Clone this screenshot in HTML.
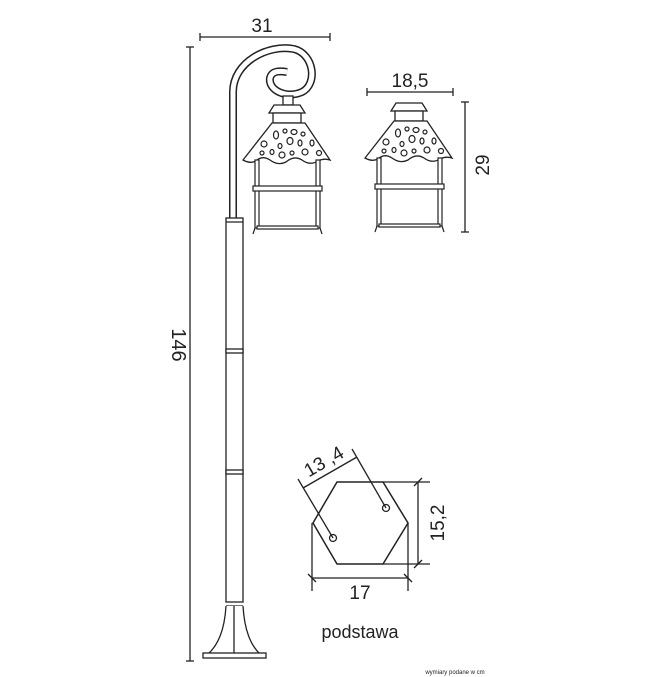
<!DOCTYPE html>
<html><head><style>
html,body{margin:0;padding:0;background:#fff;}
svg{display:block;}
text{font-family:"Liberation Sans",sans-serif;fill:#222;}
</style></head><body>
<svg width="650" height="677" viewBox="0 0 650 677" xmlns="http://www.w3.org/2000/svg">
<defs>
<g id="lamp">
  <path d="M269,113 L274,105 L300,105 L305,113 Z" fill="#fff" stroke="#222" stroke-width="1.3"/>
  <rect x="273" y="113" width="28" height="10" fill="#fff" stroke="#222" stroke-width="1.3"/>
  <path d="M272,123 L305,123 L330,160 Q324,158 318,161 Q310,166 302,160 Q294,155 286,162 Q278,166 270,160 Q262,155 256,161 Q250,164 243,160 Z" fill="#fff" stroke="#222" stroke-width="1.3"/>
  <g fill="none" stroke="#222" stroke-width="1.2">
    <ellipse cx="276" cy="135" rx="2.5" ry="4"/><ellipse cx="285" cy="131" rx="2" ry="2"/><ellipse cx="294" cy="132" rx="3" ry="2.5"/><ellipse cx="303" cy="134" rx="2" ry="2"/>
    <ellipse cx="264" cy="144" rx="3" ry="3"/><ellipse cx="290" cy="141" rx="3" ry="3.5"/><ellipse cx="300" cy="143" rx="2" ry="3"/><ellipse cx="312" cy="143" rx="2" ry="3"/><ellipse cx="280" cy="146" rx="2" ry="2.5"/>
    <ellipse cx="262" cy="153" rx="2" ry="2"/><ellipse cx="272" cy="152" rx="2" ry="2.5"/><ellipse cx="282" cy="155" rx="3" ry="3"/><ellipse cx="292" cy="153" rx="2" ry="2"/><ellipse cx="305" cy="152" rx="3" ry="3"/><ellipse cx="319" cy="153" rx="2.5" ry="2.5"/>
  </g>
  <g fill="#fff" stroke="#222" stroke-width="1.2">
    <rect x="255" y="160" width="4" height="68"/><rect x="316" y="160" width="4" height="68"/>
    <rect x="253" y="186" width="69" height="5"/>
    <rect x="257" y="226" width="61" height="3"/>
  </g>
  <path d="M255,228 L253,234 M320,228 L322,234" stroke="#222" stroke-width="1.2"/>
</g>
</defs>
<g stroke="#222" fill="none" stroke-width="1.3">
  <line x1="200" y1="37" x2="330" y2="37"/><line x1="200" y1="33" x2="200" y2="41"/><line x1="330" y1="33" x2="330" y2="41"/>
  <line x1="190" y1="47" x2="190" y2="661"/><line x1="186" y1="47" x2="194" y2="47"/><line x1="186" y1="661" x2="194" y2="661"/>
  <path d="M233,218 L233,92 C233,62 268,44 294,49 C314,54 318,84 302,92 C286,99 268,90 270,78 C272,70 281,71 287,72" stroke="#222" stroke-width="8" stroke-linecap="butt"/>
  <path d="M233,219 L233,92 C233,62 268,44 294,49 C314,54 318,84 302,92 C286,99 268,90 270,78 C272,70 281,71 287,72" stroke="#fff" stroke-width="5"/>
  <rect x="283" y="96" width="10" height="9" fill="#fff"/>
</g>
<use href="#lamp"/>
<use href="#lamp" transform="translate(122,-2)"/>
<g stroke="#222" fill="#fff" stroke-width="1.3">
  <rect x="226" y="218" width="17" height="384"/>
  <line x1="226" y1="222" x2="243" y2="222"/>
  <rect x="226" y="349" width="17" height="4"/>
  <rect x="226" y="470" width="17" height="4"/>
  <line x1="226" y1="606" x2="243" y2="606"/>
  <path d="M226,606 Q224,640 208,654 L260,654 Q245,640 243,606"/>
  <line x1="234" y1="606" x2="234" y2="654"/>
  <rect x="203" y="653" width="63" height="5"/>
</g>
<g stroke="#222" fill="none" stroke-width="1.3">
  <line x1="367" y1="92" x2="453" y2="92"/><line x1="367" y1="88" x2="367" y2="96"/><line x1="453" y1="88" x2="453" y2="96"/>
  <line x1="465" y1="102" x2="465" y2="232"/><line x1="461" y1="102" x2="469" y2="102"/><line x1="461" y1="232" x2="469" y2="232"/>
  <path d="M337,482 L383,482 L408,523 L383,564 L337,564 L313,523 Z" stroke-width="1.5"/>
  <circle cx="386" cy="508" r="3.5" fill="#fff"/><circle cx="333" cy="538" r="3.5" fill="#fff"/>
  <line x1="383" y1="482" x2="430" y2="482"/><line x1="383" y1="564" x2="430" y2="564"/>
  <line x1="418" y1="482" x2="418" y2="564"/><line x1="414" y1="486" x2="422" y2="478"/><line x1="414" y1="568" x2="422" y2="560"/>
  <line x1="312" y1="523" x2="312" y2="591"/><line x1="408" y1="523" x2="408" y2="591"/>
  <line x1="312" y1="578" x2="408" y2="578"/><line x1="308" y1="574" x2="316" y2="582"/><line x1="404" y1="574" x2="412" y2="582"/>
  <line x1="333" y1="538" x2="298" y2="479"/><line x1="386" y1="508" x2="352" y2="449"/>
  <line x1="303" y1="488" x2="357" y2="457"/>
</g>
<text x="262" y="32" font-size="19" text-anchor="middle">31</text>
<text x="410" y="87" font-size="19" text-anchor="middle">18,5</text>
<text transform="translate(172,345) rotate(90)" font-size="20" text-anchor="middle">146</text>
<text transform="translate(489,165) rotate(-90)" font-size="19" text-anchor="middle">29</text>
<text transform="translate(444,523) rotate(-90)" font-size="19" text-anchor="middle">15,2</text>
<text x="360" y="599" font-size="19" text-anchor="middle">17</text>
<text transform="translate(327,467) rotate(-30)" font-size="19" text-anchor="middle">13 ,4</text>
<text x="360" y="638" font-size="18" text-anchor="middle">podstawa</text>
<text x="455" y="674" font-size="6" text-anchor="middle">wymiary podane w cm</text>
</svg>
</body></html>
